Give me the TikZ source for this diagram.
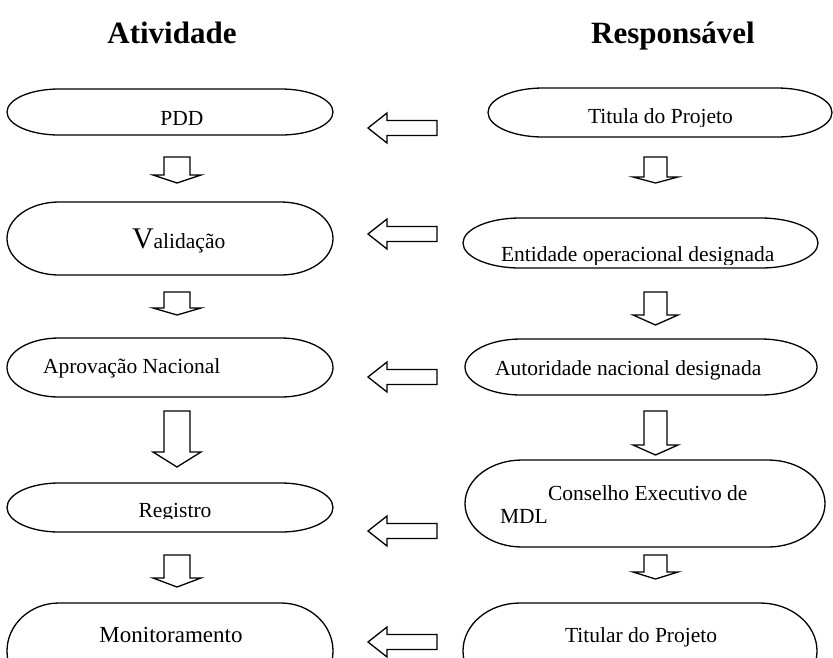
\documentclass[tikz,border=0pt]{standalone}
\usepackage{fontspec}
\setmainfont{Liberation Serif}
\usetikzlibrary{calc}
\tikzset{
  frame/.style={draw=none, inner sep=0pt, outer sep=0pt},
  txt/.style={inner sep=0pt, outer sep=0pt, font=\fontsize{21.5}{24}\selectfont},
  head/.style={inner sep=0pt, outer sep=0pt, font=\fontsize{31}{34}\selectfont\bfseries},
  outl/.style={draw=black, line width=1.3pt, fill=white},
  blk/.style={draw=black, line width=1.3pt, fill=white, line join=miter}
}
\newcommand\termout[2]{%
  \draw[outl] let \p1=(#1.north east), \p2=(#1.south west), \n1={(\y1-\y2)/2} in
    (\x2+#2pt,\y1) -- (\x1-#2pt,\y1)
    arc[start angle=90, end angle=-90, x radius=#2pt, y radius={\n1*1pt}]
    -- (\x2+#2pt,\y2)
    arc[start angle=270, end angle=90, x radius=#2pt, y radius={\n1*1pt}] -- cycle;}
% down block arrow: cx, top, headbase, tip, shaft half width, head half width
\newcommand\blkdown[6]{%
  \draw[blk] (#1-#5,#2) -- (#1+#5,#2) -- (#1+#5,#3) -- (#1+#6,#3) -- (#1,#4)
    -- (#1-#6,#3) -- (#1-#5,#3) -- cycle;}
% left block arrow: tipx, y, headbase x, end x, shaft half height, head half height
\newcommand\blkleft[6]{%
  \draw[blk] (#1,#2) -- (#3,#2-#6) -- (#3,#2-#5) -- (#4,#2-#5) -- (#4,#2+#5)
    -- (#3,#2+#5) -- (#3,#2+#6) -- cycle;}
\begin{document}
\begin{tikzpicture}[x=1pt, y=-1pt]
\useasboundingbox (0,0) rectangle (833,657);
\clip (0,0) rectangle (833,657);

% headers
\node[head, anchor=base] (hA) at (172,43) {Atividade};
\node[head, anchor=base] (hR) at (673,43) {Responsável};

% left column frames
\node[frame, minimum width=326pt, minimum height=46pt] (pdd) at (170,112) {};
\node[frame, minimum width=326pt, minimum height=73pt] (val) at (170,238.5) {};
\node[frame, minimum width=326pt, minimum height=59pt] (apr) at (170,367.5) {};
\node[frame, minimum width=326pt, minimum height=49pt] (reg) at (170,507.5) {};
\node[frame, minimum width=326pt, minimum height=96pt] (mon) at (170,651) {};
\termout{pdd}{52}
\termout{val}{52}
\termout{apr}{52}
\termout{reg}{52}
\termout{mon}{52}

% right column frames
\node[frame, minimum width=344pt, minimum height=49pt] (tit) at (660,112.5) {};
\node[frame, minimum width=355pt, minimum height=50pt] (ent) at (640.5,243) {};
\node[frame, minimum width=352pt, minimum height=56pt] (aut) at (641,367) {};
\node[frame, minimum width=360pt, minimum height=87pt] (con) at (645,503.5) {};
\node[frame, minimum width=354pt, minimum height=96pt] (tdp) at (640,651) {};
\termout{tit}{55}
\termout{ent}{57}
\termout{aut}{56}
\termout{con}{57}
\termout{tdp}{57}

% texts, left
\node[txt, anchor=base] (pddT) at (182,125) {PDD};
\node[txt, anchor=base west] (valT) at (132,248) {{\fontsize{30}{32}\selectfont V}alidação};
\node[txt, anchor=base west] (aprT) at (43,373) {Aprovação Nacional};
\begin{scope}
  \clip (0,0) rectangle (833,518.5);
  \node[txt, anchor=base] (regT) at (175,517) {Registro};
\end{scope}
\node[txt, anchor=base, font=\fontsize{23}{26}\selectfont] (monT) at (171,642) {Monitoramento};

% texts, right
\begin{scope}
  \clip (0,0) rectangle (833,126.5);
  \node[txt, anchor=base west] (titT) at (588,123.5) {Titula do Projeto};
\end{scope}
\begin{scope}
  \clip (0,0) rectangle (833,264);
  \node[txt, anchor=base west] (entT) at (501,261) {Entidade operacional designada};
\end{scope}
\node[txt, anchor=base west] (autT) at (495,375) {Autoridade nacional designada};
\node[txt, anchor=base west] (conT) at (548,500) {Conselho Executivo de};
\node[txt, anchor=base west] (mdlT) at (500,523) {MDL};
\node[txt, anchor=base west] (tdpT) at (565,642) {Titular do Projeto};

% down arrows, left
\blkdown{177}{157}{175}{183}{13}{24}
\blkdown{177}{292}{308}{315}{13}{24}
\blkdown{177}{411}{452}{467}{13}{24}
\blkdown{177}{555}{578}{587}{13}{24}

% down arrows, right
\blkdown{655.5}{157}{177}{183}{11.5}{22.5}
\blkdown{655.5}{292}{315}{325}{11.5}{22.5}
\blkdown{655.5}{411}{445}{455}{11.5}{22.5}
\blkdown{655.5}{555}{572}{579}{11.5}{22.5}

% left arrows
\blkleft{368}{128}{387}{437}{7.5}{15}
\blkleft{368}{234}{387}{437}{7.5}{15}
\blkleft{368}{377}{387}{437}{7.5}{15}
\blkleft{368}{531}{387}{437}{7.5}{15}
\blkleft{368}{642}{387}{437}{7.5}{15}
\end{tikzpicture}
\end{document}
